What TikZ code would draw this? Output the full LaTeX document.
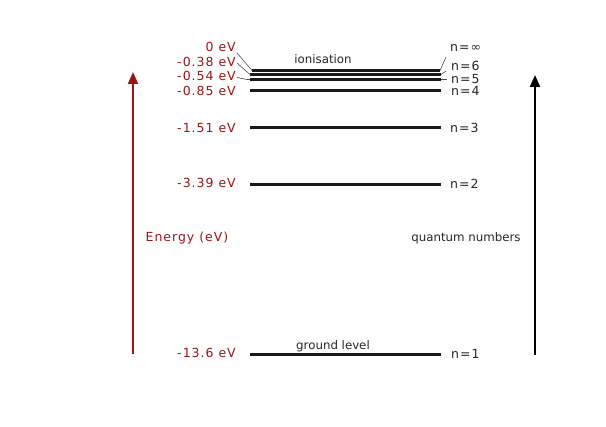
\documentclass[tikz,border=0pt]{standalone}
\usepackage{fontspec}
\setmainfont{DejaVu Sans}
\newfontfamily\spaced[LetterSpace=8]{DejaVu Sans}
\usetikzlibrary{arrows.meta}
\definecolor{dred}{RGB}{150,22,22}
\begin{document}
\begin{tikzpicture}[x=1pt,y=-1pt,
  level/.style={line width=2.2pt,black!90},
  leader/.style={line width=0.6pt,black!70},
  elab/.style={anchor=east,inner sep=0pt,text=dred,font=\spaced\fontsize{12.5}{13}\selectfont},
  nlab/.style={anchor=west,inner sep=0pt,text=black!85,font=\spaced\fontsize{12.5}{13}\selectfont},
  small/.style={inner sep=0pt,text=black!85,font=\fontsize{11.8}{12}\selectfont},
  bigarrow/.style={line width=2pt,-{Triangle[length=12pt,width=10pt]}}]
\useasboundingbox (0,0) rectangle (606,427);
% level lines
\foreach \nm/\y/\xa/\xb in {inf/70.5/252/440, six/74.5/250/441, five/79.5/250/441, four/90.5/250/441, three/127.5/250/441, two/184.5/250/441, one/354.5/250/441}{
  \coordinate (\nm a) at (\xa,\y);
  \coordinate (\nm b) at (\xb,\y);
  \draw[level] (\nm a) -- (\nm b);
}
% energy labels
\node[elab] (e0) at (236,47) {0 eV};
\node[elab] (e6) at (236,62) {-0.38 eV};
\node[elab] (e5) at (236,76) {-0.54 eV};
\node[elab] (e4) at (236,91) {-0.85 eV};
\node[elab] (e3) at (236,128) {-1.51 eV};
\node[elab] (e2) at (236,183) {-3.39 eV};
\node[elab] (e1) at (236,353) {-13.6 eV};
% quantum number labels
\node[nlab] (n0) at (450,48) {n=∞};
\node[nlab] (n6) at (451,66) {n=6};
\node[nlab] (n5) at (451,79) {n=5};
\node[nlab] (n4) at (451,91) {n=4};
\node[nlab] (n3) at (450,128) {n=3};
\node[nlab] (n2) at (450,184) {n=2};
\node[nlab] (n1) at (451,354) {n=1};
% leaders left
\coordinate (p0) at (237,53);
\coordinate (p6) at (237,63);
\coordinate (p5) at (237,77.5);
\draw[leader] (p0) -- (infa);
\draw[leader] (p6) -- (sixa);
\draw[leader] (p5) -- (247,79.5) -- (fivea);
% leaders right
\coordinate (q0) at (446,57);
\coordinate (q6) at (446,71);
\coordinate (q5) at (447,79.5);
\draw[leader] (q0) -- (infb);
\draw[leader] (q6) -- (sixb);
\draw[leader] (q5) -- (fiveb);
% texts
\node[small] (ion) at (323,59) {ionisation};
\node[small] (gl) at (333,346) {ground level};
\node[inner sep=0pt,text=dred,font=\spaced\fontsize{12.5}{13}\selectfont] (en) at (187,238) {Energy (eV)};
\node[small] (qn) at (466,238) {quantum numbers};
% arrows
\coordinate (ra) at (133,354);
\coordinate (rb) at (133,72);
\coordinate (ba) at (535,355);
\coordinate (bb) at (535,75);
\draw[bigarrow,dred] (ra) -- (rb);
\draw[bigarrow,black] (ba) -- (bb);
\end{tikzpicture}
\end{document}
